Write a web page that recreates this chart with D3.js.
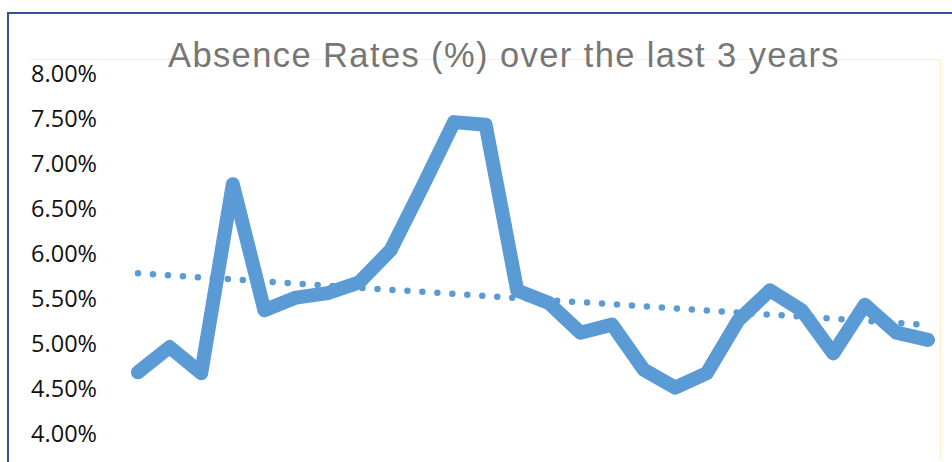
<!DOCTYPE html>
<html>
<head>
<meta charset="utf-8">
<script src="https://cdn.jsdelivr.net/npm/d3@7"></script>
<style>
  html, body { margin: 0; padding: 0; background: #ffffff; }
  svg { display: block; }
</style>
</head>
<body>
<script>
// Absence rate per period (%), oldest first
const periods = d3.range(1, 27).map(d => "P" + d);
const absenceRates = [4.68, 4.96, 4.67, 6.77, 5.37, 5.51, 5.56, 5.68, 6.04, 6.74,
                      7.46, 7.43, 5.59, 5.45, 5.12, 5.21, 4.71, 4.51, 4.67, 5.26,
                      5.59, 5.37, 4.89, 5.43, 5.12, 5.04];
const yTicks = [4.0, 4.5, 5.0, 5.5, 6.0, 6.5, 7.0, 7.5, 8.0];
const titleText = "Absence Rates (%) over the last 3 years";

const W = 952, H = 462;
const svg = d3.select("body").append("svg").attr("width", W).attr("height", H);

// chart frame (left and top edges visible)
svg.append("line").attr("x1", 8).attr("x2", 8).attr("y1", 12).attr("y2", H)
  .attr("stroke", "#2F5597").attr("stroke-width", 2);
svg.append("line").attr("x1", 7).attr("x2", W).attr("y1", 13).attr("y2", 13)
  .attr("stroke", "#2F5597").attr("stroke-width", 2);

// faint plot-area outline
svg.append("line").attr("x1", 30).attr("x2", 940).attr("y1", 59.5).attr("y2", 59.5)
  .attr("stroke", "#f4f0e2").attr("stroke-width", 1);
svg.append("line").attr("x1", 940.5).attr("x2", 940.5).attr("y1", 59).attr("y2", 460)
  .attr("stroke", "#fdeec4").attr("stroke-width", 1.5);

const x = d3.scalePoint().domain(periods).range([138, 928]);
const y = d3.scaleLinear().domain([4, 8]).range([433.5, 73.5]);

// y axis labels
const yAxis = d3.axisLeft(y).tickValues(yTicks).tickFormat(d => d.toFixed(2) + "%").tickSize(0).tickPadding(0);
const ga = svg.append("g").attr("transform", "translate(97,0)").call(yAxis);
ga.select(".domain").remove();
ga.selectAll("text")
  .attr("font-family", "'Open Sans', sans-serif")
  .attr("font-size", 23.5)
  .attr("fill", "#111111")
  .attr("dy", "0.35em");

// title
svg.append("text")
  .attr("x", 504).attr("y", 67)
  .attr("text-anchor", "middle")
  .attr("font-family", "'Liberation Sans', Arial, sans-serif")
  .attr("font-size", 34.5)
  .attr("letter-spacing", 1.4)
  .attr("fill", "#767676")
  .text(titleText);

// linear trend of the series (least squares)
const n = absenceRates.length;
const idx = d3.range(n);
const mi = d3.mean(idx), mv = d3.mean(absenceRates);
const slope = d3.sum(idx, i => (i - mi) * (absenceRates[i] - mv)) / d3.sum(idx, i => (i - mi) ** 2);
const trend = idx.map(i => mv + slope * (i - mi));

const line = d3.line().x((d, i) => x(periods[i])).y(d => y(d));

svg.append("path")
  .datum(trend)
  .attr("d", line)
  .attr("fill", "none")
  .attr("stroke", "#5B9BD5")
  .attr("stroke-width", 6.5)
  .attr("stroke-linecap", "round")
  .attr("stroke-dasharray", "0 15");

svg.append("path")
  .datum(absenceRates)
  .attr("d", line)
  .attr("fill", "none")
  .attr("stroke", "#5B9BD5")
  .attr("stroke-width", 14)
  .attr("stroke-linecap", "round")
  .attr("stroke-linejoin", "round");
</script>
</body>
</html>
